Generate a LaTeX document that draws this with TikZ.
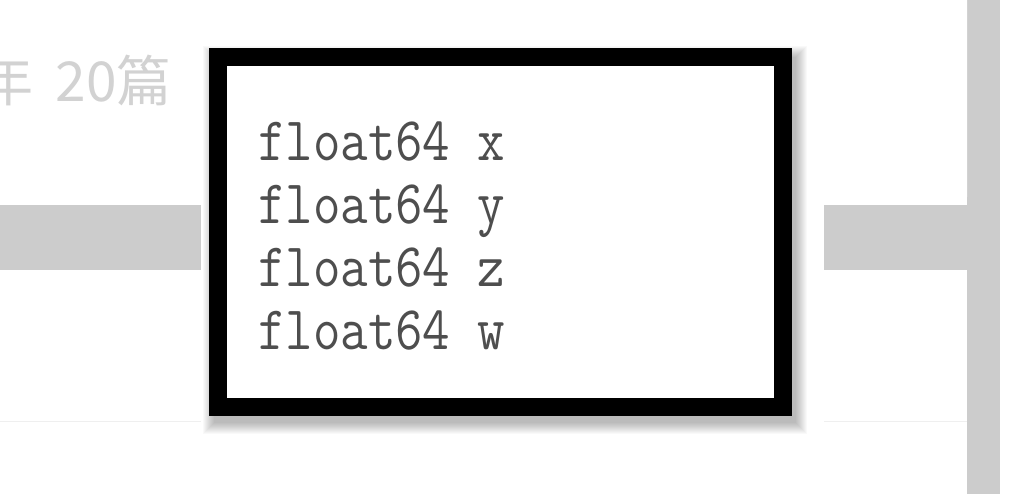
\documentclass[tikz,border=0pt]{standalone}
\usepackage{fontspec}
\newfontfamily\cjkfont{Noto Sans CJK SC}
\definecolor{pagegray}{HTML}{CCCCCC}
\definecolor{metagray}{HTML}{D2D2D2}
\definecolor{rulegray}{HTML}{EFEFEF}
\definecolor{codegray}{HTML}{4E4E4E}
\tikzset{
  field/.style={anchor=base west, inner sep=0pt, text=codegray,
    font=\fontsize{62}{63}\selectfont\ttfamily, xscale=0.86, transform shape},
}

\begin{document}
\begin{tikzpicture}[x=1pt, y=-1pt]
  \useasboundingbox (0,0) rectangle (1010,494);
  \clip (0,0) rectangle (1010,494);
  % page background strips
  \fill[pagegray] (0,205) rectangle (1000,270);
  \fill[pagegray] (967,0) rectangle (1000,494);
  \fill[white, rounded corners=8pt] (-20,-20) rectangle (967,205);
  \draw[rulegray, line width=1pt] (0,421) -- (967,421);
  \node[font=\cjkfont\fontsize{55}{60}\selectfont, text=metagray, anchor=base east, inner sep=0pt] (count) at (172,102) {年\kern22pt 20篇};
  % picture of the struct
  \fill[white] (201,30) rectangle (824,445);
  \foreach \g in {1,...,12}
    \fill[black, opacity=0.025] (215-\g, 58-\g) rectangle (795+\g, 422+\g);
  \node[draw=black, line width=18pt, fill=white, minimum width=565pt, minimum height=350pt, inner sep=0pt] (vecbox) at (500,232.5) {};
  \node[field] (fx) at (258,161) {float64 x};
  \node[field] (fy) at (258,224) {float64 y};
  \node[field] (fz) at (258,287) {float64 z};
  \node[field] (fw) at (258,350) {float64 w};
\end{tikzpicture}
\end{document}
